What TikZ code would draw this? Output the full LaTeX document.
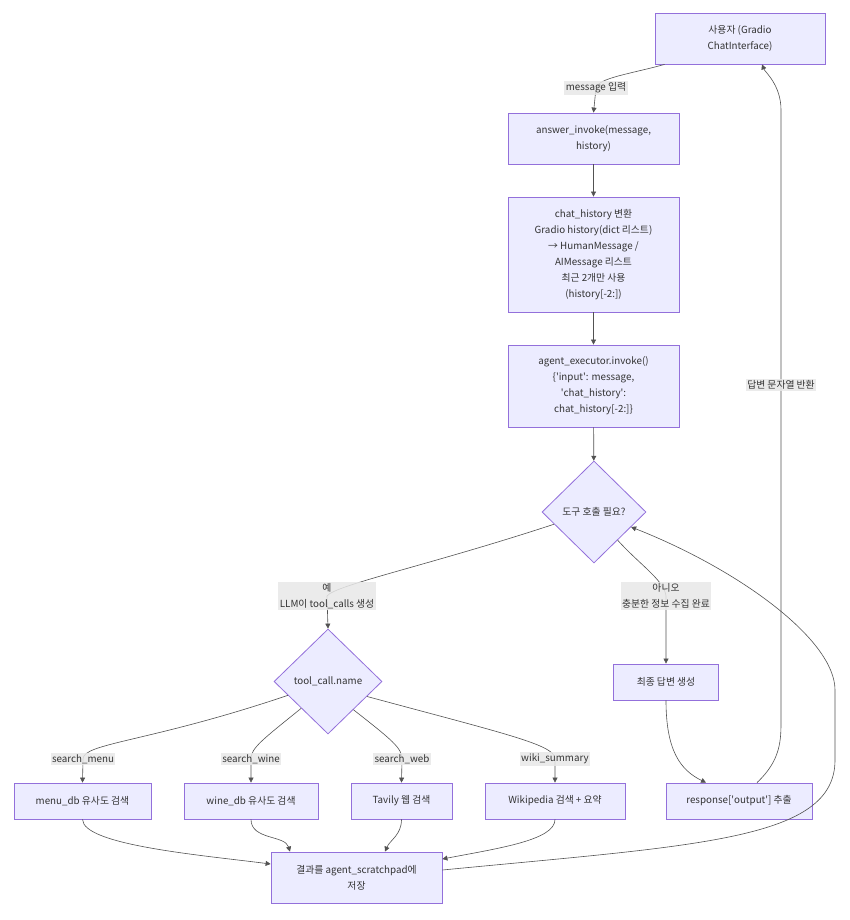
\documentclass[tikz,border=0pt]{standalone}
\usepackage{fontspec}
\setmainfont{Noto Sans CJK KR}
\usetikzlibrary{shapes.geometric,arrows.meta}
\definecolor{boxfill}{HTML}{ECECFF}
\definecolor{boxline}{HTML}{9370DB}
\definecolor{lblfill}{HTML}{E8E8E8}
\definecolor{linecol}{HTML}{333333}
\newcommand{\sq}{\textquotesingle}
\tikzset{every node/.style={font=\fontsize{9.8}{16}\selectfont, text=linecol, align=center}}
\tikzset{box/.style={draw=boxline, fill=boxfill, line width=0.8pt, inner sep=0pt, minimum height=36pt},
   choice/.style={diamond, draw=boxline, fill=boxfill, line width=0.8pt, inner sep=0pt, minimum width=104pt, minimum height=102pt},
   lbl/.style={fill=lblfill, fill opacity=0.85, text opacity=1, inner sep=1.5pt},
   link/.style={draw=linecol!85, line width=0.6pt, -{Triangle[length=5pt,width=5pt]}}}

\begin{document}
\begin{tikzpicture}[x=1pt,y=-1pt]
   \useasboundingbox (0,0) rectangle (850,920);
   \node[box, minimum width=170pt, minimum height=51pt] (user) at (740,38.5) {사용자 (Gradio\\ChatInterface)};
   \node[box, minimum width=171pt, minimum height=51pt] (answer) at (593.5,138.5) {answer\_invoke(message,\\history)};
   \node[box, minimum width=171pt, minimum height=115pt] (chat) at (593.5,254.5) {chat\_history 변환\\Gradio history(dict 리스트)\\→ HumanMessage /\\AIMessage 리스트\\최근 2개만 사용\\(history[-2:])};
   \node[box, minimum width=171pt, minimum height=82pt] (agent) at (593.5,386) {agent\_executor.invoke()\\\{\sq input\sq: message,\\\sq chat\_history\sq:\\chat\_history[-2:]\}};
   \node[choice] (dec) at (594,512) {도구 호출 필요?};
   \node[choice, minimum width=108pt, minimum height=105pt] (tool) at (328,681.5) {tool\_call.name};
   \node[box, minimum width=105pt] (final) at (666,682) {최종 답변 생성};
   \node[box, minimum width=137pt] (menu) at (82.5,801) {menu\_db 유사도 검색};
   \node[box, minimum width=134pt] (wine) at (251,801) {wine\_db 유사도 검색};
   \node[box, minimum width=101pt] (tavily) at (401.5,801) {Tavily 웹 검색};
   \node[box, minimum width=140pt] (wiki) at (555,801) {Wikipedia 검색 + 요약};
   \node[box, minimum width=146pt] (response) at (739,801) {response[\sq output\sq] 추출};
   \node[box, minimum width=171pt, minimum height=51pt] (result) at (356.5,877.5) {결과를 agent\_scratchpad에\\저장};

   \draw[link] ([xshift=10pt]user.south west) .. controls (630,74) and (598,78) .. (596,88) node[lbl] (lmsg) {message 입력} -- (answer.north);
   \draw[link] (answer) -- (chat);
   \draw[link] (chat) -- (agent);
   \draw[link] (agent) -- (dec);
   \draw[link] (dec.197) .. controls (430,565) and (335,585) .. (327,596) node[lbl] (lyes) {예\\LLM이 tool\_calls 생성} -- (tool.north);
   \draw[link] (dec.310) .. controls (640,565) and (664,580) .. (666,596) node[lbl] (lno) {아니오\\충분한 정보 수집 완료} -- (final.north);
   \draw[link] (tool.199) .. controls (150,742) and (83,743) .. (83,759) node[lbl] (lmenu) {search\_menu} -- (menu.north);
   \draw[link] (tool.225) .. controls (262,740) and (251,748) .. (251,759) node[lbl] (lwine) {search\_wine} -- (wine.north);
   \draw[link] (tool.312) .. controls (392,740) and (402,748) .. (402,759) node[lbl] (lweb) {search\_web} -- (tavily.north);
   \draw[link] (tool.339) .. controls (510,735) and (555,745) .. (555,759) node[lbl] (lwiki) {wiki\_summary} -- (wiki.north);
   \draw[link] (menu.south) .. controls (83,845) and (200,855) .. ([yshift=13.5pt]result.west);
   \draw[link] (wine.south) .. controls (251,840) and (285,835) .. ([xshift=-66.5pt]result.north);
   \draw[link] (tavily.south) .. controls (401.5,835) and (390,840) .. ([xshift=28.5pt]result.north);
   \draw[link] (wiki.south) .. controls (555,840) and (500,848) .. ([yshift=18.5pt]result.east);
   \draw[link] ([yshift=7.5pt]result.east) .. controls (700,845) and (835,840) .. (835,760) -- (835,690) .. controls (835,640) and (740,570) .. (dec.338);
   \draw[link] (final.south) .. controls (666,750) and (680,770) .. ([xshift=-33pt]response.north);
   \draw[link] ([xshift=18pt]response.north) .. controls (781,760) and (781,740) .. (781,720) -- node[lbl, pos=0.549] (lret) {답변 문자열 반환} (781,110) .. controls (781,85) and (765,72) .. ([xshift=22pt]user.south);
\end{tikzpicture}
\end{document}
